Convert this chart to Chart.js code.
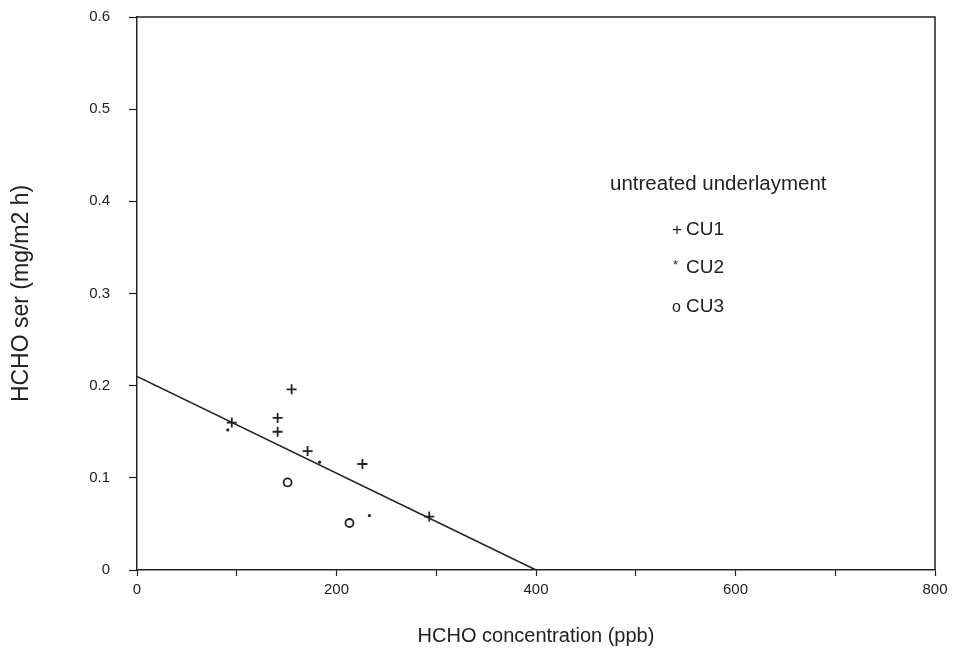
<!DOCTYPE html>
<html>
<head>
<meta charset="utf-8">
<script src="https://cdn.jsdelivr.net/npm/chart.js@4/dist/chart.umd.min.js"></script>
<style>
  html, body { margin: 0; padding: 0; background: #fff; }
  #wrap { width: 958px; height: 658px; }
</style>
</head>
<body>
<div id="wrap"><canvas id="c" width="958" height="658"></canvas></div>
<script>
// HCHO surface emission rate vs. chamber concentration, untreated underlayment
const cu1Conc = [95, 141, 141, 155, 171, 226, 293];
const cu1Rate = [0.160, 0.165, 0.150, 0.196, 0.129, 0.115, 0.058];

const cu2Conc = [91, 183, 233];
const cu2Rate = [0.152, 0.117, 0.059];

const cu3Conc = [151, 213];
const cu3Rate = [0.095, 0.051];

// regression line end points
const fitConc = [0, 400];
const fitRate = [0.21, 0];

const xTicks = [0, 200, 400, 600, 800];
const yTicks = [0, 0.1, 0.2, 0.3, 0.4, 0.5, 0.6];

const legendTitle = 'untreated underlayment';
const legendItems = [
  { sym: '+', label: 'CU1' },
  { sym: '*', label: 'CU2' },
  { sym: 'o', label: 'CU3' }
];

const ink = '#222';
const fontFam = '"Liberation Sans", Arial, Helvetica, sans-serif';

const pts = (xs, ys) => xs.map((x, i) => ({ x: x, y: ys[i] }));

// frame around the plot area plus the text legend
const framePlugin = {
  id: 'frame',
  afterDraw(chart) {
    const { ctx, chartArea: a } = chart;
    ctx.save();
    ctx.strokeStyle = ink;
    ctx.lineWidth = 1.5;
    ctx.beginPath();
    ctx.moveTo(a.left, a.top);
    ctx.lineTo(a.right, a.top);
    ctx.lineTo(a.right, a.bottom);
    ctx.stroke();

    ctx.fillStyle = ink;
    ctx.textBaseline = 'alphabetic';
    ctx.textAlign = 'left';
    ctx.font = '20.5px ' + fontFam;
    ctx.fillText(legendTitle, 610, 190);
    const rows = [235, 273, 312];
    legendItems.forEach((it, i) => {
      ctx.font = '17px ' + fontFam;
      let sx = 672;
      let sy = rows[i];
      if (it.sym === '*') { ctx.font = '13px ' + fontFam; sy -= 4; sx += 1; }
      if (it.sym === 'o') { ctx.font = '16px ' + fontFam; }
      ctx.fillText(it.sym, sx, sy);
      ctx.font = '19px ' + fontFam;
      ctx.fillText(it.label, 686, rows[i]);
    });
    ctx.restore();
  }
};

new Chart(document.getElementById('c'), {
  type: 'scatter',
  data: {
    datasets: [
      {
        type: 'line',
        label: 'fit',
        data: pts(fitConc, fitRate),
        borderColor: ink,
        borderWidth: 1.6,
        pointRadius: 0,
        fill: false
      },
      {
        label: 'CU1',
        data: pts(cu1Conc, cu1Rate),
        pointStyle: 'cross',
        pointRadius: 5,
        borderColor: ink,
        borderWidth: 1.8,
        backgroundColor: ink
      },
      {
        label: 'CU2',
        data: pts(cu2Conc, cu2Rate),
        pointStyle: 'circle',
        pointRadius: 1.6,
        borderWidth: 0,
        borderColor: ink,
        backgroundColor: ink
      },
      {
        label: 'CU3',
        data: pts(cu3Conc, cu3Rate),
        pointStyle: 'circle',
        pointRadius: 4,
        borderWidth: 1.8,
        borderColor: ink,
        backgroundColor: 'rgba(0,0,0,0)'
      }
    ]
  },
  options: {
    responsive: false,
    animation: false,
    devicePixelRatio: 1,
    layout: { padding: { top: 17, right: 23, left: 0, bottom: 0 } },
    plugins: {
      legend: { display: false },
      tooltip: { enabled: false }
    },
    scales: {
      x: {
        type: 'linear',
        min: 0,
        max: 800,
        afterBuildTicks(s) {
          const t = [];
          for (let v = 0; v <= 800; v += 100) t.push({ value: v });
          s.ticks = t;
        },
        afterFit(s) { s.height = 88; s.paddingLeft = 0; s.paddingRight = 0; },
        border: { display: true, color: ink, width: 1.5 },
        grid: { drawOnChartArea: false, drawTicks: true, tickLength: 6, color: ink, tickWidth: 1.2 },
        ticks: {
          color: ink,
          font: { family: fontFam, size: 15 },
          padding: 5,
          maxRotation: 0,
          callback: (v) => (xTicks.includes(v) ? String(v) : '')
        },
        title: {
          display: true,
          text: 'HCHO concentration (ppb)',
          color: ink,
          font: { family: fontFam, size: 20 },
          padding: { top: 0, bottom: 10 }
        }
      },
      y: {
        type: 'linear',
        min: 0,
        max: 0.6,
        afterBuildTicks(s) { s.ticks = yTicks.map(v => ({ value: v })); },
        afterFit(s) { s.width = 137; s.paddingTop = 0; s.paddingBottom = 0; },
        border: { display: true, color: ink, width: 1.5 },
        grid: { drawOnChartArea: false, drawTicks: true, tickLength: 8, color: ink, tickWidth: 1.2 },
        ticks: {
          color: ink,
          font: { family: fontFam, size: 15 },
          padding: 19,
          callback: (v) => (v === 0 ? '0' : v.toFixed(1))
        },
        title: {
          display: true,
          text: 'HCHO ser (mg/m2 h)',
          color: ink,
          font: { family: fontFam, size: 23 },
          padding: { top: 8, bottom: 0 }
        }
      }
    }
  },
  plugins: [framePlugin]
});
</script>
</body>
</html>
